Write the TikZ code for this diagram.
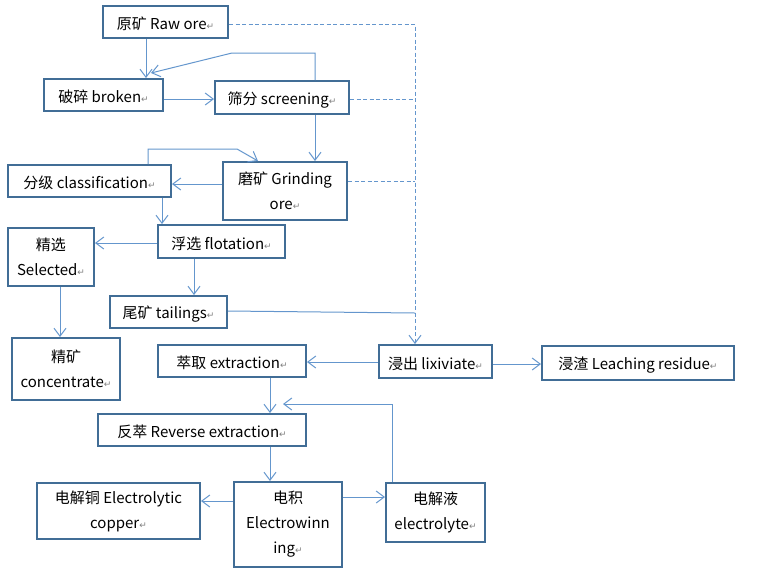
\documentclass[tikz,border=0pt]{standalone}
\usepackage{fontspec}
\usepackage{xcolor}
\usetikzlibrary{arrows.meta}
\setmainfont{Noto Sans CJK SC}
\newfontfamily\symfont{DejaVu Sans}
\definecolor{boxline}{RGB}{65,109,150}
\definecolor{flowline}{RGB}{100,150,205}
\newcommand{\retmark}{{\symfont\fontsize{9}{9}\selectfont\color{gray}↵}}

\begin{document}
\begin{tikzpicture}[x=1pt, y=-1pt,
    procbox/.style={draw=boxline, line width=2pt, fill=white, align=center,
        inner sep=2pt, font=\fontsize{15}{25}\selectfont,
        execute at begin node={\rule{0pt}{17pt}}},
    link/.style={draw=flowline, line width=1pt},
    flow/.style={link, -{Straight Barb[length=8pt,width=12pt]}},
    feed/.style={link, dash pattern=on 4pt off 2.5pt}]
\useasboundingbox (0,0) rectangle (765,582);

% crushing and grinding
\node[procbox, minimum width=125pt, minimum height=32pt] (raw) at (165.5,22) {原矿 Raw ore\retmark};
\node[procbox, minimum width=119pt, minimum height=32pt] (broken) at (103.5,95) {破碎 broken\retmark};
\node[procbox, minimum width=134pt, minimum height=33pt] (screen) at (282,97.5) {筛分 screening\retmark};
\node[procbox, minimum width=163pt, minimum height=32pt] (classif) at (89.5,181) {分级 classification\retmark};
\node[procbox, minimum width=124pt, minimum height=58pt] (grind) at (285,191) {磨矿 Grinding\\ore\retmark};

% flotation
\node[procbox, minimum width=127pt, minimum height=33pt] (flot) at (221.5,241.5) {浮选 flotation\retmark};
\node[procbox, minimum width=86pt, minimum height=58pt] (select) at (51,257) {精选\\Selected\retmark};
\node[procbox, minimum width=117pt, minimum height=32pt] (tail) at (168.5,312) {尾矿 tailings\retmark};
\node[procbox, minimum width=108pt, minimum height=62pt] (conc) at (66,369) {精矿\\concentrate\retmark};

% leaching and extraction
\node[procbox, minimum width=148pt, minimum height=32pt] (extr) at (232,361) {萃取 extraction\retmark};
\node[procbox, minimum width=113pt, minimum height=33pt] (lix) at (435.5,361.5) {浸出 lixiviate\retmark};
\node[procbox, minimum width=192pt, minimum height=34pt] (resid) at (638,363) {浸渣 Leaching residue\retmark};
\node[procbox, minimum width=208pt, minimum height=32pt] (rev) at (202,430) {反萃 Reverse extraction\retmark};

% electrowinning
\node[procbox, minimum width=163pt, minimum height=56pt] (cu) at (118.5,511) {电解铜 Electrolytic\\copper\retmark};
\node[procbox, minimum width=108pt, minimum height=85pt] (ew) at (288,524.5) {电积\\Electrowinn\\ing\retmark};
\node[procbox, minimum width=99pt, minimum height=59pt] (ely) at (435.5,512.5) {电解液\\electrolyte\retmark};

\coordinate (oversize) at (151,73);
\coordinate (reflux) at (283,404);
\coordinate (junction) at (415,313);

\draw[flow] (146,0 |- raw.south) -- (146,0 |- broken.north);
\draw[flow] (315,0 |- screen.north) |- (232,53) -- (oversize);
\draw[flow] (broken.east |- 0,99) -- (screen.west |- 0,99);
\draw[flow] (315,0 |- screen.south) -- (315,0 |- grind.north);
\draw[flow] (grind.west |- 0,184) -- (classif.east |- 0,184);
\draw[flow] (148,0 |- classif.north) |- (237,149) -- (258,0 |- grind.north);
\draw[flow] (162,0 |- classif.south) -- (162,0 |- flot.north);
\draw[flow] (flot.west |- 0,243) -- (select.east |- 0,243);
\draw[flow] (194,0 |- flot.south) -- (194,0 |- tail.north);
\draw[flow] (60,0 |- select.south) -- (60,0 |- conc.north);
\draw[link] (tail.east |- 0,311) -- (junction);

% feeds to leaching
\draw[feed, -{Straight Barb[length=8pt,width=12pt]}] (raw.east |- 0,24) -| (415,0 |- lix.north);
\draw[feed] (screen.east |- 0,99) -- (415,99);
\draw[feed] (grind.east |- 0,181) -- (415,181);

\draw[flow] (lix.west |- 0,362) -- (extr.east |- 0,362);
\draw[flow] (lix.east |- 0,364) -- (resid.west |- 0,364);
\draw[flow] (270,0 |- extr.south) -- (270,0 |- rev.north);
\draw[flow] (392,0 |- ely.north) |- (reflux);
\draw[flow] (270,0 |- rev.south) -- (270,0 |- ew.north);
\draw[flow] (ew.west |- 0,501) -- (cu.east |- 0,501);
\draw[flow] (ew.east |- 0,497) -- (ely.west |- 0,497);
\end{tikzpicture}
\end{document}
